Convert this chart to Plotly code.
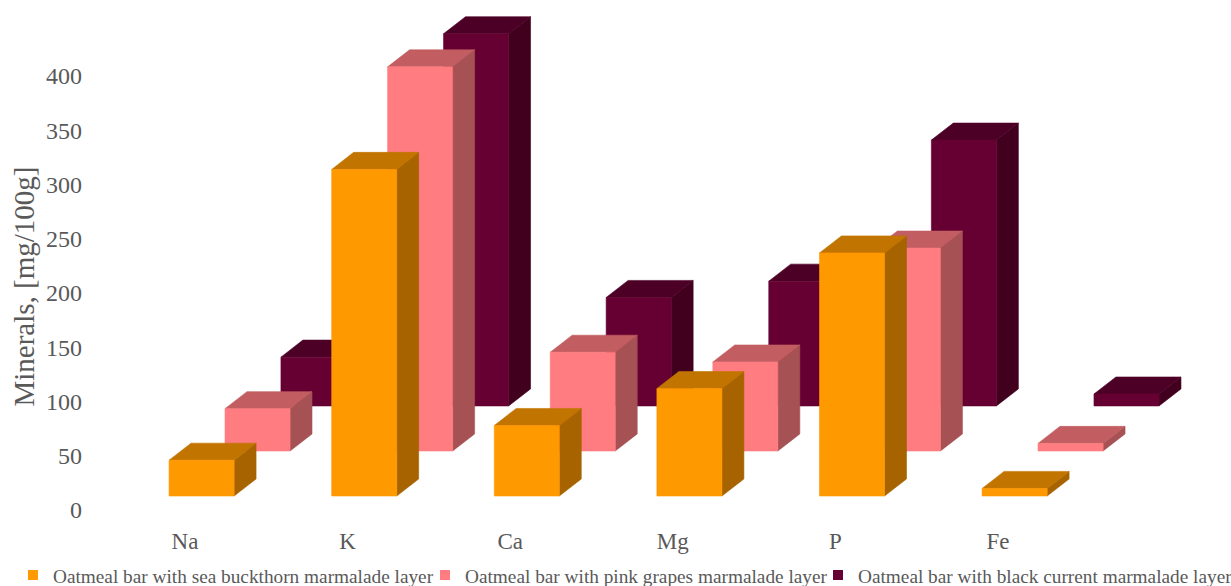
import plotly.graph_objects as go

categories = ["Na", "K", "Ca", "Mg", "P", "Fe"]
sea_buckthorn = [33, 301, 65, 99, 224, 7]
pink_grapes = [39, 354, 91, 82, 187, 7]
black_currant = [45, 343, 100, 115, 245, 11]
tick_values = [0, 50, 100, 150, 200, 250, 300, 350, 400]

series = [
    ("Oatmeal bar with black current marmalade layer", black_currant, "#660033", "#4D0026", "#42001F", 95.9, 0.590, "legend3", 0.658),
    ("Oatmeal bar with pink grapes marmalade layer", pink_grapes, "#FF7C80", "#C25E61", "#A65154", 54.4, 0.246, "legend2", 0.3062),
    ("Oatmeal bar with sea buckthorn marmalade layer", sea_buckthorn, "#FF9900", "#C27400", "#A66300", 12.9, -0.098, "legend", -0.0627),
]

BAR_WIDTH = 0.40      # front face width, in category units
DEPTH_X = 0.135       # oblique depth along x, in category units
DEPTH_Y = 15.7        # oblique depth along y, in value units


def polygons(faces):
    xs, ys = [], []
    for face in faces:
        xs += [p[0] for p in face] + [face[0][0], None]
        ys += [p[1] for p in face] + [face[0][1], None]
    return xs, ys


fig = go.Figure()
for name, values, front, top, side, base, shift, legend_id, _ in series:
    front_faces, top_faces, side_faces = [], [], []
    for i, v in enumerate(values):
        x0 = i + shift
        x1 = x0 + BAR_WIDTH
        y1 = base + v
        front_faces.append([(x0, base), (x1, base), (x1, y1), (x0, y1)])
        top_faces.append([(x0, y1), (x1, y1), (x1 + DEPTH_X, y1 + DEPTH_Y), (x0 + DEPTH_X, y1 + DEPTH_Y)])
        side_faces.append([(x1, base), (x1 + DEPTH_X, base + DEPTH_Y), (x1 + DEPTH_X, y1 + DEPTH_Y), (x1, y1)])
    for faces, colour in ((side_faces, side), (top_faces, top), (front_faces, front)):
        xs, ys = polygons(faces)
        fig.add_trace(go.Scatter(x=xs, y=ys, mode="lines", fill="toself", fillcolor=colour,
                                 line=dict(width=0.6, color=colour, simplify=False), showlegend=False,
                                 name=name, hoverinfo="skip"))

# Square swatches for the key at the bottom, one legend per series
for name, values, front, top, side, base, shift, legend_id, legend_x in reversed(series):
    fig.add_trace(go.Scatter(x=[None], y=[None], mode="markers", name=name, legend=legend_id,
                             marker=dict(symbol="square", size=10, color=front)))

legend_style = dict(orientation="h", yanchor="middle", y=-0.098, xanchor="left",
                    bgcolor="rgba(0,0,0,0)", borderwidth=0,
                    font=dict(family="Liberation Serif", size=19.3, color="#595959"))

fig.update_layout(
    width=1231, height=586, paper_bgcolor="white", plot_bgcolor="white",
    margin=dict(l=83, r=31, t=10, b=61, autoexpand=False),
    showlegend=True,
    legend=dict(x=series[2][8], **legend_style),
    legend2=dict(x=series[1][8], **legend_style),
    legend3=dict(x=series[0][8], **legend_style),
    xaxis=dict(range=[-0.6273, 6.242], tickvals=list(range(len(categories))), ticktext=categories,
               showgrid=False, zeroline=False, showline=False, ticks="",
               tickfont=dict(family="Liberation Serif", size=23, color="#595959")),
    yaxis=dict(range=[-13.8, 460.8], tickvals=tick_values, showgrid=False, zeroline=False,
               showline=False, ticks="",
               tickfont=dict(family="Liberation Serif", size=24, color="#595959")),
    annotations=[dict(text="Minerals, [mg/100g]", textangle=-90, xref="paper", yref="y",
                      x=-0.0528, y=206, xanchor="center", yanchor="middle", showarrow=False,
                      font=dict(family="Liberation Serif", size=29, color="#595959"))],
)

fig.write_html("out.html")
